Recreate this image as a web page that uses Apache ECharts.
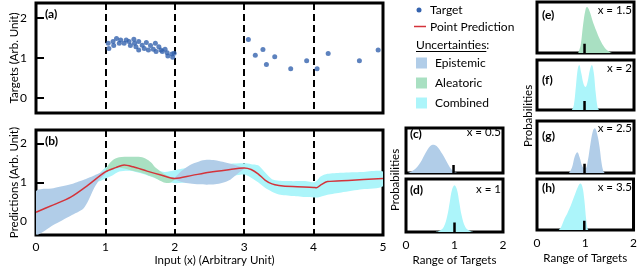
<!DOCTYPE html>
<html><head><meta charset="utf-8">
<script src="https://cdn.jsdelivr.net/npm/echarts@6/dist/echarts.min.js"></script>
<style>html,body{margin:0;padding:0;background:#fff}#c{width:640px;height:267px}</style>
</head><body><div id="c"></div><script>
// ---------- data ----------
const xTicks = [0, 1, 2, 3, 4, 5];
const yTicks = [0, 1, 2];
const smallTicks = [0, 1, 2];

// (a) targets
const tgX = [1.04,1.05,1.11,1.12,1.16,1.2,1.22,1.27,1.3,1.34,1.36,1.41,1.42,1.44,1.48,1.48,1.53,1.56,1.59,1.62,1.65,1.69,1.72,1.73,1.77,1.8,1.82,1.86,1.89,1.9,1.96,1.97,1.99,3.06,3.16,3.27,3.32,3.44,3.67,3.9,4.05,4.21,4.66,4.93];
const tgY = [1.37,1.24,1.41,1.31,1.49,1.37,1.45,1.37,1.45,1.41,1.31,1.47,1.37,1.28,1.41,1.2,1.32,1.24,1.39,1.2,1.31,1.22,1.37,1.16,1.28,1.2,1.16,1.22,1.13,1.05,1.1,1.02,1.12,1.46,1.07,1.21,0.84,1.03,0.73,0.93,0.73,1.11,0.93,1.2];

// (b) point prediction
const prX = [0,0.25,0.5,0.75,1.0,1.15,1.27,1.4,1.6,1.8,2.0,2.25,2.5,2.75,3.0,3.1,3.2,3.3,3.4,3.5,3.7,4.0,4.04,4.1,4.2,4.5,5.0];
const prY = [0.23,0.42,0.62,0.93,1.27,1.38,1.45,1.4,1.29,1.19,1.1,1.18,1.26,1.32,1.37,1.33,1.22,1.06,0.96,0.92,0.89,0.87,0.86,0.93,1.02,1.05,1.1];

// (b) combined band
const cyX  = [0.8,0.9,1.0,1.1,1.2,1.35,1.5,1.7,1.85,2.0,2.2,2.5,2.8,3.0,3.1,3.2,3.3,3.4,3.5,3.7,3.9,4.0,4.05,4.1,4.2,4.4,4.7,5.0];
const cyLo = [1.0,1.02,1.1,1.18,1.28,1.3,1.24,1.12,1.02,0.98,1.0,1.08,1.16,1.2,1.12,1.0,0.86,0.76,0.69,0.65,0.62,0.61,0.61,0.63,0.68,0.74,0.82,0.9];
const cyHi = [1.02,1.2,1.38,1.46,1.52,1.52,1.45,1.34,1.27,1.31,1.38,1.44,1.48,1.49,1.47,1.44,1.26,1.08,1.04,1.03,1.03,1.0,1.05,1.15,1.22,1.25,1.27,1.28];

// (b) epistemic band 0..1
const epX  = [0,0.25,0.5,0.68,0.76,0.84,0.92,1.0];
const epLo = [-0.34,-0.1,0.14,0.32,0.55,0.86,1.08,1.22];
const epHi = [0.77,0.85,0.95,1.06,1.12,1.18,1.24,1.3];

// (b) aleatoric band 1..2
const alX  = [1.0,1.06,1.13,1.2,1.35,1.53,1.62,1.67,1.71,1.78,1.86,1.93,2.0];
const alLo = [1.26,1.32,1.36,1.38,1.32,1.24,1.18,1.15,1.12,1.05,0.99,0.99,1.08];
const alHi = [1.3,1.49,1.6,1.65,1.66,1.65,1.57,1.49,1.4,1.3,1.2,1.14,1.1];

// (b) epistemic band 2..3
const lnX  = [2.0,2.1,2.22,2.35,2.46,2.58,2.69,2.8,2.93,3.0];
const lnLo = [1.08,1.01,0.97,0.95,0.94,0.95,0.99,1.07,1.26,1.35];
const lnHi = [1.12,1.3,1.45,1.54,1.58,1.57,1.53,1.48,1.41,1.38];

// small distributions
const cX = [0.03,0.1,0.2,0.3,0.4,0.5,0.57,0.65,0.75,0.85,0.93,1.0,1.05];
const cY = [0.0,0.03,0.1,0.24,0.44,0.6,0.63,0.58,0.42,0.23,0.09,0.02,0.0];
const dX = [0.6,0.7,0.78,0.85,0.9,0.95,1.0,1.05,1.1,1.15,1.22,1.3,1.4];
const dY = [0.0,0.03,0.1,0.3,0.55,0.8,0.88,0.8,0.55,0.3,0.1,0.03,0.0];
const eX = [0.85,0.9,0.95,1.0,1.03,1.08,1.15,1.22,1.3,1.4,1.5,1.55];
const eY = [0.0,0.15,0.55,0.85,0.9,0.83,0.62,0.44,0.26,0.1,0.02,0.0];
const fX = [0.72,0.76,0.8,0.84,0.87,0.91,0.96,1.0,1.04,1.09,1.13,1.17,1.21,1.25,1.28];
const fY = [0.0,0.1,0.45,0.82,0.9,0.75,0.52,0.46,0.55,0.8,0.9,0.75,0.35,0.05,0.0];
const gX = [0.66,0.72,0.78,0.83,0.88,0.94,1.0,1.05,1.1,1.15,1.19,1.24,1.29,1.33,1.37,1.4];
const gY = [0.0,0.1,0.32,0.4,0.3,0.12,0.09,0.25,0.55,0.8,0.86,0.75,0.5,0.2,0.03,0.0];
const hX = [0.45,0.5,0.57,0.63,0.7,0.78,0.85,0.9,0.94,0.98,1.02,1.05,1.07];
const hY = [0.0,0.06,0.22,0.33,0.48,0.68,0.85,0.91,0.85,0.6,0.2,0.02,0.0];
const targetX = [0.98,1.0,0.98,0.98,0.98,0.98];
const panelLabels = ['(c)','(d)','(e)','(f)','(g)','(h)'];
const panelX = ['x = 0.5','x = 1','x = 1.5','x = 2','x = 2.5','x = 3.5'];

// ---------- styles ----------
const FONT = 'Lato, "Liberation Sans", sans-serif';
const C_PT = '#3563ae', C_RED = '#d4333a', C_EP = '#b1cde8', C_AL = '#a9e0c2', C_CY = '#acf5fa';

const pairs = (xs, ys) => xs.map((x, i) => [x, ys[i]]);
function band(xs, lo, hi, color) {
  return {
    type:'custom', xAxisIndex:1, yAxisIndex:1, clip:true, silent:true, z:2,
    data: xs.map((x, i) => [x, lo[i], hi[i]]),
    encode:{x:0, y:[1,2]},
    renderItem: function (params, api) {
      if (params.dataIndex !== 0) return null;
      const top = xs.map((x, i) => api.coord([x, hi[i]]));
      const bot = xs.map((x, i) => api.coord([x, lo[i]])).reverse();
      return {type:'polygon', shape:{points: top.concat(bot), smooth:0.25}, style:{fill:color}};
    }
  };
}

const grids = [
  {left:31, top:3, width:352, height:110},
  {left:31, top:130, width:352, height:107},
  {left:406, top:128, width:97, height:45},
  {left:406, top:179, width:97, height:53},
  {left:537, top:2, width:97, height:51},
  {left:537, top:60, width:97, height:50},
  {left:537, top:121, width:97, height:52},
  {left:537, top:179, width:97, height:51}
].map(g => Object.assign({show:true, borderColor:'#000', borderWidth:3, backgroundColor:'transparent'}, g));

const mainX = (i, labels) => ({
  type:'value', gridIndex:i, min:0, max:5, interval:1,
  axisLine:{show:false}, axisTick:{show:false},
  axisLabel:{show:labels, fontSize:12, color:'#000', fontFamily:FONT, margin:6},
  splitLine:{show:true, lineStyle:{color:'#000', width:2, type:[7,4]}},
  name: labels ? 'Input (x) (Arbitrary Unit)' : '', nameLocation:'middle', nameGap:17,
  nameTextStyle:{fontSize:11.5, color:'#000', fontFamily:FONT, padding:[0,0,0,10]}
});
const mainY = (i, mn, mx, nm) => ({
  type:'value', gridIndex:i, min:mn, max:mx,
  axisLine:{show:false},
  axisTick:{show:true, inside:true, length:8, lineStyle:{color:'#000', width:2}, customValues:yTicks},
  axisLabel:{fontSize:12, color:'#000', fontFamily:FONT, margin:9, customValues:yTicks},
  splitLine:{show:false},
  name:nm, nameLocation:'middle', nameGap:16, nameMoveOverlap:false,
  nameTextStyle:{fontSize:11.5, color:'#000', fontFamily:FONT}
});
const xAxes = [mainX(0,false), mainX(1,true)];
const yAxes = [mainY(0,-0.375,2.375,'Targets (Arb. Unit)'), mainY(1,-0.36,2.35,'Predictions (Arb. Unit)')];
for (let k = 0; k < 6; k++) {
  const bottom = (k === 1 || k === 5);
  xAxes.push({type:'value', gridIndex:k+2, min:0, max:2, interval:1,
    axisLine:{show:false}, axisTick:{show:false}, splitLine:{show:false},
    axisLabel:{show:bottom, fontSize:12, color:'#000', fontFamily:FONT, margin:7},
    name: bottom ? 'Range of Targets' : '', nameLocation:'middle', nameGap:22,
    nameTextStyle:{fontSize:11.5, color:'#000', fontFamily:FONT}});
  yAxes.push({type:'value', gridIndex:k+2, min:0, max:1, show:false});
}

const series = [];
series.push({type:'scatter', xAxisIndex:0, yAxisIndex:0, data:pairs(tgX, tgY), symbolSize:5,
  itemStyle:{color:C_PT}, silent:true, z:5});
series.push(band(cyX, cyLo, cyHi, C_CY));
series.push(band(epX, epLo, epHi, C_EP));
series.push(band(lnX, lnLo, lnHi, C_EP));
series.push(band(alX, alLo, alHi, C_AL));
series.push({type:'line', xAxisIndex:1, yAxisIndex:1, data:pairs(prX, prY), symbol:'none', smooth:0.3,
  lineStyle:{color:C_RED, width:1.5}, silent:true, z:6});

const dists = [[cX,cY,C_EP],[dX,dY,C_CY],[eX,eY,C_AL],[fX,fY,C_CY],[gX,gY,C_EP],[hX,hY,C_CY]];
dists.forEach((d, k) => {
  series.push({type:'line', xAxisIndex:k+2, yAxisIndex:k+2, data:pairs(d[0], d[1]), symbol:'none', smooth:0.4,
    lineStyle:{width:0, opacity:0}, areaStyle:{color:d[2], opacity:1, origin:'start'}, silent:true, z:2});
  series.push({type:'line', xAxisIndex:k+2, yAxisIndex:k+2, data:[[targetX[k],0],[targetX[k],0.18]], symbol:'none',
    lineStyle:{color:'#000', width:2.5}, silent:true, z:4});
});

// ---------- graphic: labels & legend ----------
const txt = (x, y, s, o) => Object.assign({type:'text', x:x, y:y, z:100,
  style:Object.assign({text:s, fill:'#000', fontSize:12, fontFamily:FONT, align:'left', verticalAlign:'middle'}, o||{})});
const g = [];
g.push(txt(45, 14, '(a)', {fontWeight:'bold'}));
g.push(txt(45, 141, '(b)', {fontWeight:'bold'}));
const smallPos = [[410,501,134,132],[410,501,190,189],[542,632,15,10],[542,632,80,68],[542,632,136,128],[542,632,188,187]];
smallPos.forEach((p, k) => {
  g.push(txt(p[0], p[2], panelLabels[k], {fontWeight:'bold'}));
  g.push(txt(p[1], p[3], panelX[k], {align:'right', fontSize:11.5}));
});
g.push(Object.assign(txt(395, 180, 'Probabilities', {align:'center', fontSize:11.5}), {rotation:Math.PI/2}));
g.push(Object.assign(txt(528, 116, 'Probabilities', {align:'center', fontSize:11.5}), {rotation:Math.PI/2}));
// legend
g.push({type:'circle', shape:{cx:419, cy:10, r:2.5}, style:{fill:C_PT}, z:100});
g.push(txt(430, 10, 'Target'));
g.push({type:'line', shape:{x1:414, y1:26.5, x2:426, y2:26.5}, style:{stroke:C_RED, lineWidth:1.5}, z:100});
g.push(txt(430, 27, 'Point Prediction'));
g.push(txt(416, 45, 'Uncertainties:'));
const ctx = document.createElement('canvas').getContext('2d');
ctx.font = '12px ' + FONT;
const uw = ctx.measureText('Uncertainties').width;
g.push({type:'line', shape:{x1:416, y1:51.5, x2:416+uw, y2:51.5}, style:{stroke:'#000', lineWidth:1}, z:100});
[['Epistemic',C_EP,63],['Aleatoric',C_AL,83],['Combined',C_CY,103]].forEach(it => {
  g.push({type:'rect', shape:{x:416, y:it[2]-5.5, width:11, height:11}, style:{fill:it[1]}, z:100});
  g.push(txt(435, it[2], it[0]));
});

const chart = echarts.init(document.getElementById('c'), null, {renderer:'canvas'});
chart.setOption({
  animation:false,
  grid:grids, xAxis:xAxes, yAxis:yAxes, series:series, graphic:g
});
</script></body></html>
